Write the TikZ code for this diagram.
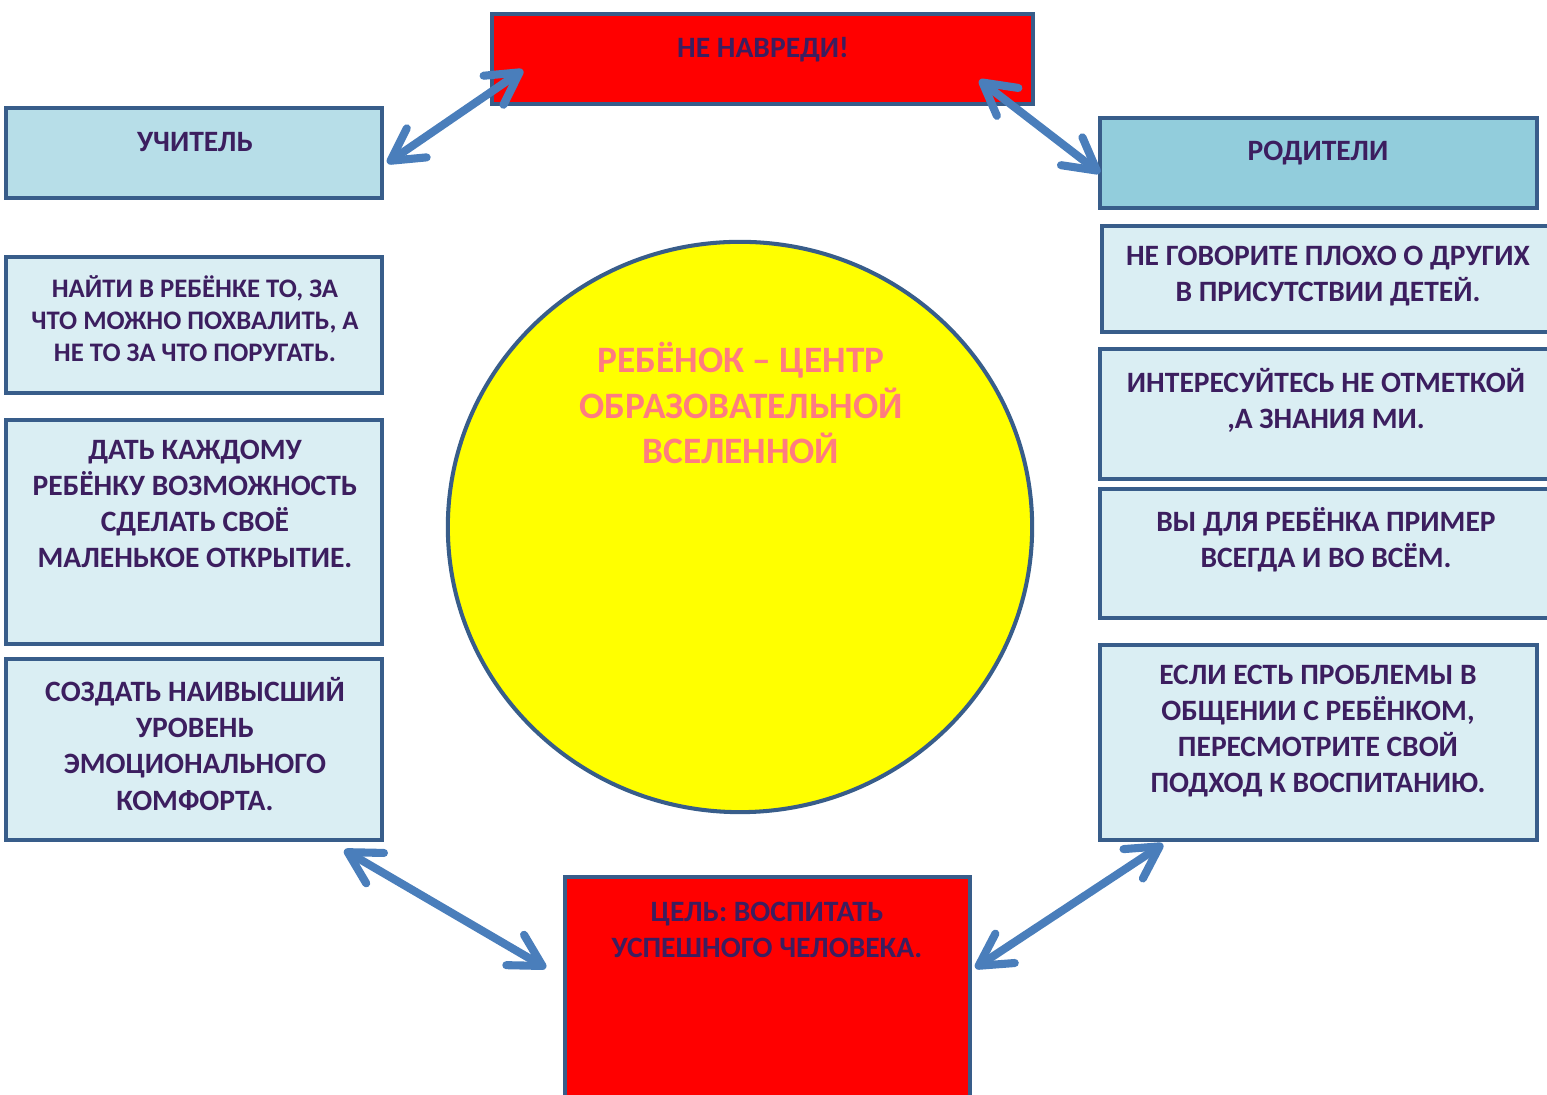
\documentclass[tikz,border=0pt]{standalone}
\usepackage{fontspec}
\setmainfont{Carlito}
\usetikzlibrary{arrows.meta,calc,shapes.geometric}
\definecolor{edge}{RGB}{56,93,138}
\definecolor{arrowblue}{RGB}{74,126,187}
\definecolor{harmred}{RGB}{255,0,0}
\definecolor{paleblue}{RGB}{218,238,243}
\definecolor{teachblue}{RGB}{183,222,232}
\definecolor{parentblue}{RGB}{146,205,220}
\definecolor{ink}{RGB}{60,30,95}
\definecolor{salmon}{RGB}{255,124,128}
\definecolor{sunyellow}{RGB}{255,255,0}
\tikzset{
  box/.style={draw=edge, line width=1.15pt, anchor=north west, inner sep=0pt, fill=paleblue},
  txt/.style={text=ink, font=\bfseries\fontsize{8.4}{10.25}\selectfont, align=center, inner sep=0pt},
  smalltxt/.style={txt, font=\bfseries\fontsize{7.6}{9.1}\selectfont},
  bigtxt/.style={txt, text=salmon, font=\bfseries\fontsize{10.6}{12.95}\selectfont},
  link/.style={draw=arrowblue, line width=2.3pt, >={Straight Barb[length=9pt,width=10pt,round]}, <->},
}
\begin{document}
\begin{tikzpicture}[x=0.01cm, y=-0.01cm]
  \clip (0,0) rectangle (1547,1095);
  % centre
  \node (child) at (740,527) [ellipse, draw=edge, line width=1.15pt, fill=sunyellow,
    minimum width=5.84cm, minimum height=5.70cm] {};
  \node (childtxt) at (741,403) [bigtxt] {РЕБЁНОК – ЦЕНТР\\ОБРАЗОВАТЕЛЬНОЙ\\ВСЕЛЕННОЙ};
  % headers
  \node (harm) at (490,12) [box, fill=harmred, minimum width=5.41cm, minimum height=0.90cm] {};
  \node (teach) at (4,106) [box, fill=teachblue, minimum width=3.76cm, minimum height=0.90cm] {};
  \node (parents) at (1098,116) [box, fill=parentblue, minimum width=4.37cm, minimum height=0.90cm] {};
  \node (goal) at (563,875) [box, fill=harmred, minimum width=4.05cm, minimum height=2.50cm] {};
  \node (harmtxt) at (763,50) [txt] {НЕ НАВРЕДИ!};
  \node (teachtxt) at (195,142) [txt] {УЧИТЕЛЬ};
  \node (parentstxt) at (1318,153) [txt] {РОДИТЕЛИ};
  \node (goaltxt) at (767,930) [txt] {ЦЕЛЬ: ВОСПИТАТЬ\\УСПЕШНОГО ЧЕЛОВЕКА.};
  % teacher side
  \node (t1) at (4,255) [box, minimum width=3.76cm, minimum height=1.36cm] {};
  \node (t2) at (4,418) [box, minimum width=3.76cm, minimum height=2.24cm] {};
  \node (t3) at (4,657) [box, minimum width=3.76cm, minimum height=1.81cm] {};
  \node (t1txt) at (195,319) [smalltxt] {НАЙТИ В РЕБЁНКЕ ТО, ЗА\\ЧТО МОЖНО ПОХВАЛИТЬ, А\\НЕ ТО ЗА ЧТО ПОРУГАТЬ.};
  \node (t2txt) at (195,504) [txt] {ДАТЬ КАЖДОМУ\\РЕБЁНКУ ВОЗМОЖНОСТЬ\\СДЕЛАТЬ СВОЁ\\МАЛЕНЬКОЕ ОТКРЫТИЕ.};
  \node (t3txt) at (195,744) [txt] {СОЗДАТЬ НАИВЫСШИЙ\\УРОВЕНЬ\\ЭМОЦИОНАЛЬНОГО\\КОМФОРТА.};
  % parents side
  \node (p1) at (1100,224) [box, minimum width=4.60cm, minimum height=1.06cm] {};
  \node (p2) at (1098,347) [box, minimum width=4.60cm, minimum height=1.30cm] {};
  \node (p3) at (1098,487) [box, minimum width=4.60cm, minimum height=1.29cm] {};
  \node (p4) at (1098,643) [box, minimum width=4.37cm, minimum height=1.95cm] {};
  \node (p1txt) at (1328,276) [txt] {НЕ ГОВОРИТЕ ПЛОХО О ДРУГИХ\\В ПРИСУТСТВИИ ДЕТЕЙ.};
  \node (p2txt) at (1326,400) [txt] {ИНТЕРЕСУЙТЕСЬ НЕ ОТМЕТКОЙ\\,А ЗНАНИЯ МИ.};
  \node (p3txt) at (1326,540) [txt] {ВЫ ДЛЯ РЕБЁНКА ПРИМЕР\\ВСЕГДА И ВО ВСЁМ.};
  \node (p4txt) at (1318,731) [txt] {ЕСЛИ ЕСТЬ ПРОБЛЕМЫ В\\ОБЩЕНИИ С РЕБЁНКОМ,\\ПЕРЕСМОТРИТЕ СВОЙ\\ПОДХОД К ВОСПИТАНИЮ.};
  % arrows
  \draw[link] ($(teach.east)+(3,10)$) -- ($(harm.south west)+(33,-36)$);
  \draw[link] ($(harm.south east)+(-56,-26)$) -- ($(parents.west)+(2,10)$);
  \draw[link] ($(t3.south east)+(-40,8)$) -- ($(goal.north west)+(-17,93)$);
  \draw[link] ($(goal.north east)+(3,93)$) -- ($(p4.south west)+(65,2)$);
\end{tikzpicture}
\end{document}
